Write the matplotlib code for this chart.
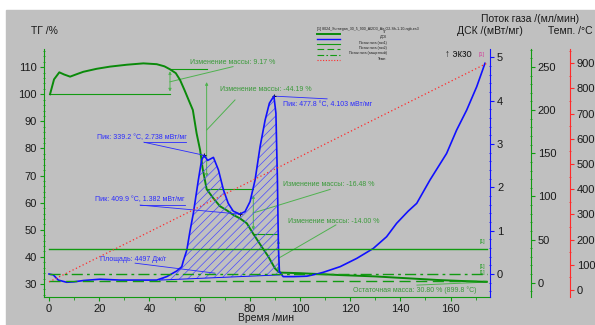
import numpy as np
import matplotlib
matplotlib.use('Agg')
import matplotlib.pyplot as plt
from matplotlib.patches import Rectangle
from matplotlib.ticker import MultipleLocator

plt.rcParams['font.family'] = ['Liberation Sans', 'DejaVu Sans']
plt.rcParams['hatch.linewidth'] = 0.5

# ТГ (%)
tg_t = [0.4, 2, 4.1, 6, 8.4, 11, 13.7, 19, 24.3, 31, 37.6, 42.9, 46, 48.2, 50.5, 52.2,
        54, 55.8, 57.3, 58.8, 60.2, 61.2, 62.8, 65.5, 68.1, 70.8, 73.4, 76.1, 78.8, 81.4,
        84.7, 87.4, 90, 91.4, 92.5, 100, 116, 130, 145, 154.5, 165, 174.4]
tg_v = [100, 105.5, 108.1, 107.3, 106.5, 107.4, 108.3, 109.4, 110.2, 110.9, 111.4, 111.1,
        110.3, 109.2, 107.8, 105.3, 101.5, 97.5, 94.2, 85.6, 79.4, 72.7, 65.0, 61.6, 58.7,
        57.2, 55.5, 54.2, 52.4, 48.5, 43.8, 40.1, 35.8, 34.5, 34.2, 34.0, 33.3, 32.8, 32.0,
        31.5, 31.1, 30.8]

# ДСК (мВт/мг)
dsc_t = [0, 1.7, 3.7, 7, 10, 13.7, 20.3, 28.3, 36.3, 42.9, 46.9, 50.9, 52.9, 53.5, 54.9,
         56.2, 57.5, 59.5, 60.8, 61.8, 63.2, 65.5, 67.5, 69.5, 71.4, 73.4, 76, 78.1, 80.1,
         82.1, 84.1, 86.1, 87.8, 89.6, 90.4, 91, 91.4, 91.8, 93.3, 97.3, 102.7, 106.7, 109.3,
         116, 122.6, 129.2, 134.5, 138.5, 143.1, 146.5, 151.8, 158.4, 162.4, 166.4, 170.4, 173.7]
dsc_v = [0.0, -0.02, -0.14, -0.19, -0.18, -0.15, -0.12, -0.14, -0.14, -0.14, -0.06, 0.07,
         0.17, 0.3, 0.55, 1.0, 1.4, 2.17, 2.63, 2.738, 2.62, 2.69, 2.40, 1.94, 1.63, 1.45,
         1.382, 1.44, 1.67, 2.17, 2.94, 3.55, 3.94, 4.103, 3.71, 2.17, 0.63, 0.05, -0.06,
         -0.06, -0.05, 0.0, 0.04, 0.17, 0.36, 0.59, 0.86, 1.17, 1.45, 1.63, 2.17, 2.78, 3.32,
         3.78, 4.32, 4.86]
area_t = [44, 92]
area_base = [-0.14, -0.02]

# Поток газа (мл/мин)
flow_t = [0, 174.4]
flow_gas1 = [38.5, 38.5]
flow_gas2 = [2, 2]
flow_prot = [10, 10]

# Темп. (°C)
temp_t = [0, 174.4]
temp_v = [32, 899.8]

W, H = 595, 325
fig = plt.figure(figsize=(W / 100, H / 100), dpi=100)
fig.patches.append(Rectangle((6 / W, 0), 1 - 6 / W, 1 - 10 / H, transform=fig.transFigure,
                             color='#c0c0c0', zorder=-10))

ax = fig.add_axes([44 / W, 1 - 297.3 / H, 446 / W, 248.3 / H])
ax.patch.set_visible(False)
ax2 = ax.twinx()
ax3 = ax.twinx()
ax4 = ax.twinx()

green = '#129a12'
lgreen = '#4fb24f'
blue = '#1010ff'
red = '#ff2a2a'
tc = '#1a1a1a'

ax.set_xlim(-2, 175.7)
ax.set_ylim(25.1, 116.7)
ax2.set_ylim(-0.537, 5.19)
ax3.set_ylim(-16.9, 270.8)
ax4.set_ylim(-29, 956.7)

for a in (ax, ax2, ax3, ax4):
    for s in a.spines.values():
        s.set_visible(False)
ax.spines['left'].set_visible(True)
ax.spines['left'].set_color(green)
ax.spines['bottom'].set_visible(True)
ax.spines['bottom'].set_color(green)
ax2.spines['right'].set_visible(True)
ax2.spines['right'].set_color(blue)
ax3.spines['right'].set_visible(True)
ax3.spines['right'].set_color(green)
ax3.spines['right'].set_position(('axes', 1.0913))
ax4.spines['right'].set_visible(True)
ax4.spines['right'].set_color(red)
ax4.spines['right'].set_position(('axes', 1.179))

ax.set_xticks(np.arange(0, 161, 20))
ax.xaxis.set_minor_locator(MultipleLocator(10))
ax.set_yticks(np.arange(30, 111, 10))
ax.yaxis.set_minor_locator(MultipleLocator(2))
ax2.set_yticks(np.arange(0, 6, 1))
ax2.yaxis.set_minor_locator(MultipleLocator(0.2))
ax3.set_yticks(np.arange(0, 251, 50))
ax3.yaxis.set_minor_locator(MultipleLocator(10))
ax4.set_yticks(np.arange(0, 901, 100))
ax4.yaxis.set_minor_locator(MultipleLocator(50))

ax.tick_params(axis='x', which='major', colors=green, labelcolor=tc, labelsize=8, length=3, pad=2)
ax.tick_params(axis='x', which='minor', colors=green, length=2)
ax.tick_params(axis='y', which='major', colors=green, labelcolor=tc, labelsize=8, length=3, pad=2)
ax.tick_params(axis='y', which='minor', colors=green, length=2, direction='inout')
for a, c in ((ax2, blue), (ax3, green), (ax4, red)):
    a.tick_params(axis='y', which='major', colors=c, labelcolor=tc, labelsize=8, length=3, pad=2)
    a.tick_params(axis='y', which='minor', colors=c, length=2, direction='inout')

# кривые
ax.plot(tg_t, tg_v, color='#0a8a0a', lw=1.4, zorder=5)
ax3.plot(flow_t, flow_gas1, color=green, lw=1.0)
ax3.plot(flow_t, flow_gas2, color=green, lw=1.0, ls=(0, (8, 4)))
ax3.plot(flow_t, flow_prot, color=green, lw=1.0, ls=(0, (8, 3, 2, 3)))
ax4.plot(temp_t, temp_v, color=red, lw=0.9, ls=(0, (1, 2)))
ax2.plot(dsc_t, dsc_v, color=blue, lw=1.2, zorder=5)

# площадь пика
tt = np.array([area_t[0]] + [t for t in dsc_t if area_t[0] < t < area_t[1]] + [area_t[1]])
dd = np.interp(tt, dsc_t, dsc_v)
bb = np.interp(tt, area_t, area_base)
ax2.fill_between(tt, dd, bb, where=dd >= bb, interpolate=True, facecolor='none',
                 edgecolor='#4a4aff', hatch='////', lw=0)
ax2.plot(area_t, area_base, color=blue, lw=0.7)

# изменения массы
fs = 5
ax.plot([0.4, 48.2], [100, 100], color=green, lw=0.8)
ax.plot([48.2, 62.8], [109.17, 109.17], color=green, lw=0.8)
ax.plot([62.8, 81.4], [64.98, 64.98], color=green, lw=0.8)
ax.plot([81.4, 91.4], [48.5, 48.5], color=green, lw=0.8)
arrows = [(48.2, 108.5, 101.0), (62.8, 104.5, 69.5), (81.4, 62.8, 49.9), (91.4, 46.2, 34.8)]
for x, y0, y1 in arrows:
    ax.annotate('', xy=(x, y0), xytext=(x, y1),
                arrowprops=dict(arrowstyle='<|-|>', color=lgreen, lw=0.7,
                                mutation_scale=4, shrinkA=0, shrinkB=0))
leaders = [((48.2, 104.6), (73.3, 110.2)), ((62.8, 86.8), (74.1, 97.9)),
           ((81.3, 56.2), (112, 64.9)), ((91.6, 39.6), (114.3, 51.8)),
           ((146.6, 29.6), (174.1, 30.7))]
for p0, p1 in leaders:
    ax.plot([p0[0], p1[0]], [p0[1], p1[1]], color=lgreen, lw=0.7)
labels = [(56.2, 111.9, 'Изменение массы: 9.17 %'),
          (68.1, 101.8, 'Изменение массы: -44.19 %'),
          (93.3, 66.8, 'Изменение массы: -16.48 %'),
          (95.3, 53.0, 'Изменение массы: -14.00 %'),
          (121.1, 27.8, 'Остаточная масса: 30.80 % (899.8 °C)')]
for x, y, s in labels:
    ax.text(x, y, s, color='#3a9a3a', fontsize=fs, ha='left', va='center')

# пики ДСК
bc = '#2a2aff'
ax2.text(19, 3.15, 'Пик: 339.2 °C, 2.738 мВт/мг', color=bc, fontsize=fs, va='center')
ax2.plot([37.8, 54.6], [3.04, 3.04], color=bc, lw=0.6)
ax2.plot([37.8, 61.8], [3.04, 2.738], color=bc, lw=0.6)
ax2.text(18.3, 1.71, 'Пик: 409.9 °C, 1.382 мВт/мг', color=bc, fontsize=fs, va='center')
ax2.plot([36.3, 54.2], [1.59, 1.59], color=bc, lw=0.6)
ax2.plot([36.3, 76], [1.59, 1.382], color=bc, lw=0.6)
ax2.text(93.2, 3.92, 'Пик: 477.8 °C, 4.103 мВт/мг', color=bc, fontsize=fs, va='center')
ax2.plot([89.6, 110.8], [4.103, 4.04], color=bc, lw=0.6)
ax2.text(20.3, 0.34, 'Площадь: 4497 Дж/г', color=bc, fontsize=fs, va='center')
ax2.plot([34.3, 66.1], [0.25, 0.02], color=bc, lw=0.6)
ax2.plot([61.8, 76, 89.6], [2.738, 1.382, 4.103], ls='none', marker='+', color='k', ms=3, mew=0.6)

# метки [1]
ax3.text(172.5, 48, '[1]', color=green, fontsize=3.5, ha='center', va='center')
ax3.text(172.5, 19, '[1]', color=green, fontsize=3.5, ha='center', va='center')
ax3.text(172.5, 12, '[1]', color=green, fontsize=3.5, ha='center', va='center')
ax2.text(172.5, 5.07, '[1]', color='#d0409a', fontsize=4, ha='center', va='center')
ax2.text(168.5, 5.07, '↑ экзо', color=tc, fontsize=7, ha='right', va='center')

# подписи осей
fig.text(44 / W, 1 - 31 / H, 'ТГ /%', fontsize=7.5, color=tc, ha='center', va='center')
fig.text(266 / W, 1 - 318 / H, 'Время /мин', fontsize=7.5, color=tc, ha='center', va='center')
fig.text(530 / W, 1 - 19 / H, 'Поток газа /(мл/мин)', fontsize=7.5, color=tc, ha='center', va='center')
fig.text(490 / W, 1 - 31 / H, 'ДСК /(мВт/мг)', fontsize=7.5, color=tc, ha='center', va='center')
fig.text(570 / W, 1 - 31 / H, 'Темп. /°C', fontsize=7.5, color=tc, ha='center', va='center')

# легенда
fig.text(317 / W, 1 - 29 / H, '[1] 8024_Surnegan_30_5_900_Al2O3_Air-O2-Sh-1-10-ngb-es3',
         fontsize=2.6, color=tc, ha='left', va='center')
leg = [('ТГ', '#0a8a0a', '-', 1.4), ('ДСК', blue, '-', 1.0),
       ('Поток газа (газ1)', green, '-', 0.8), ('Поток газа (газ2)', green, (0, (6, 3)), 0.8),
       ('Поток газа (защитный)', green, (0, (6, 2, 1.5, 2)), 0.8), ('Темп.', red, (0, (1, 1.5)), 0.8)]
for i, (name, c, ls, lw) in enumerate(leg):
    y = 1 - (33.5 + i * 5.3) / H
    fig.add_artist(plt.Line2D([317 / W, 340 / W], [y, y], color=c, ls=ls, lw=lw))
    fig.text(387 / W, y + 1.5 / H, name, fontsize=2.6, color=tc, ha='right', va='center')

fig.savefig('out.png', dpi=100)
